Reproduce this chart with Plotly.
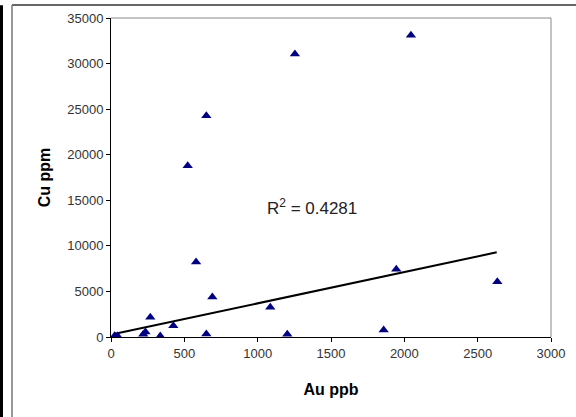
import plotly.graph_objects as go

# Data
au_ppb = [25, 45, 220, 235, 268, 336, 425, 523, 580, 650, 650, 691, 1086, 1202, 1254, 1859, 1945, 2045, 2634]
cu_ppm = [150, 100, 300, 550, 2160, 100, 1240, 18800, 8230, 330, 24280, 4390, 3260, 290, 31050, 770, 7420, 33100, 6070]

trend_x = [20, 2630]
trend_y = [330, 9290]

x_ticks = [0, 500, 1000, 1500, 2000, 2500, 3000]
y_ticks = [0, 5000, 10000, 15000, 20000, 25000, 30000, 35000]

r2_label = "R<sup>2</sup> = 0.4281"

W, H = 576, 417
L, R, T, B = 111, 25, 18, 80
pw, ph = W - L - R, H - T - B

def px(x):
    return (x - L) / pw

def py(y):
    return (H - B - y) / ph

fig = go.Figure()
fig.add_trace(go.Scatter(
    x=trend_x, y=trend_y, mode="lines",
    line=dict(color="black", width=2), showlegend=False, hoverinfo="skip"))
fig.add_trace(go.Scatter(
    x=au_ppb, y=cu_ppm, mode="markers",
    marker=dict(symbol="triangle-up", size=9, color="#000080", line=dict(width=0)),
    showlegend=False))

fig.add_annotation(x=1370, y=14300, text=r2_label, showarrow=False,
                   xref="x", yref="y",
                   font=dict(family="Liberation Sans, Arial", size=17, color="#222"))

shapes = [
    dict(type="line", xref="paper", yref="paper", x0=px(12), x1=px(576), y0=py(5), y1=py(5),
         line=dict(color="#333", width=1.5)),
    dict(type="line", xref="paper", yref="paper", x0=px(12), x1=px(12), y0=py(5), y1=py(417),
         line=dict(color="#777", width=1.5)),
    dict(type="line", xref="paper", yref="paper", x0=px(1.5), x1=px(1.5), y0=py(6), y1=py(417),
         line=dict(color="black", width=3)),
    dict(type="line", xref="paper", yref="paper", x0=px(0), x1=px(3), y0=py(6), y1=py(6),
         line=dict(color="black", width=1.5)),
    dict(type="line", xref="paper", yref="paper", x0=0, x1=1, y0=1, y1=1,
         line=dict(color="#888", width=1)),
    dict(type="line", xref="paper", yref="paper", x0=1, x1=1, y0=0, y1=1,
         line=dict(color="#888", width=1)),
]

fig.update_layout(
    width=W, height=H,
    margin=dict(l=L, r=R, t=T, b=B),
    paper_bgcolor="white", plot_bgcolor="white",
    font=dict(family="Liberation Sans, Arial", size=13, color="#333"),
    shapes=shapes,
    xaxis=dict(range=[0, 3000], tickvals=x_ticks, ticktext=[str(v) for v in x_ticks],
               showgrid=False, zeroline=False, showline=True, linecolor="black", linewidth=1,
               ticks="outside", ticklen=4, tickcolor="black",
               title=dict(text="<b>Au ppb</b>", font=dict(size=16, color="black"), standoff=24)),
    yaxis=dict(range=[0, 35000], tickvals=y_ticks, ticktext=[str(v) for v in y_ticks],
               showgrid=False, zeroline=False, showline=True, linecolor="black", linewidth=1,
               ticks="outside", ticklen=4, tickcolor="black",
               title=dict(text="<b>Cu ppm</b>", font=dict(size=16, color="black"), standoff=12)),
)

fig.write_html("out.html")
